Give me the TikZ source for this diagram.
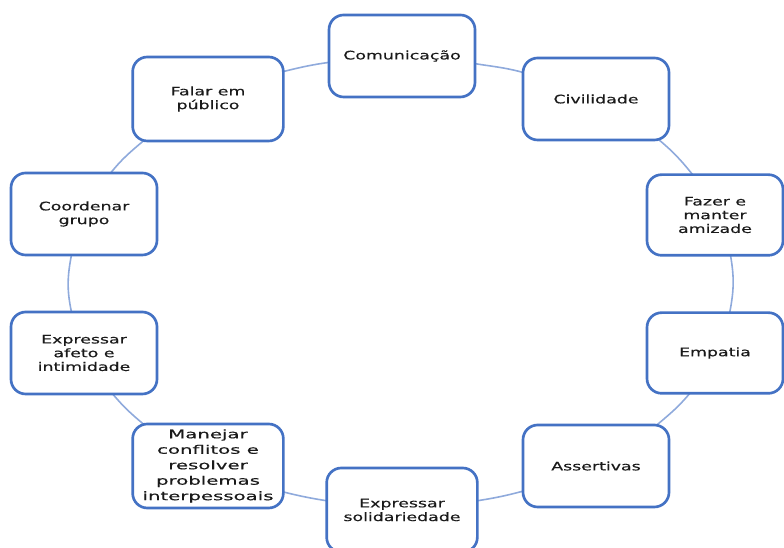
\documentclass[tikz,border=0pt]{standalone}
\usepackage{fontspec}
\setmainfont{DejaVu Sans}[FakeStretch=1.48, FakeBold=0.4]
\newfontfamily\wideFont{DejaVu Sans}[FakeStretch=1.68, FakeBold=0.4]
\usetikzlibrary{backgrounds}
\definecolor{boxblue}{HTML}{4472C4}
\definecolor{connblue}{HTML}{8FAADC}
\definecolor{textgray}{HTML}{1A1A1A}
\tikzset{
  box/.style={draw=boxblue, line width=2pt, rounded corners=11pt, fill=white,
    minimum width=109.5pt, minimum height=61.5pt, align=center, inner sep=1pt,
    outer sep=0pt, text=textgray, font=\fontsize{8.8pt}{10.3pt}\selectfont},
  narrowbox/.style={box, minimum width=102pt, minimum height=60.5pt},
  widebox/.style={box, minimum width=113pt, minimum height=63pt},
  conn/.style={draw=connblue, line width=1.2pt},
}
\begin{document}
\begin{tikzpicture}[x=0.75pt, y=0.75pt]
\useasboundingbox (0,0) rectangle (784,548);
\node[box] (c1) at (402,492) {Comunicação};
\node[box] (c2) at (596,449) {Civilidade};
\node[narrowbox] (c3) at (715,333) {Fazer e\\manter\\amizade};
\node[narrowbox] (c4) at (715,195) {Empatia};
\node[box] (c5) at (596,82) {Assertivas};
\node[widebox] (c6) at (402,38) {Expressar\\solidariedade};
\node[widebox, font=\wideFont\fontsize{8.8pt}{11.6pt}\selectfont] (c7) at (208,82) {Manejar\\conflitos e\\resolver\\problemas\\interpessoais};
\node[box] (c8) at (84,195) {Expressar\\afeto e\\intimidade};
\node[box] (c9) at (84,334) {Coordenar\\grupo};
\node[widebox] (c10) at (208,449) {Falar em\\público};
\begin{scope}[on background layer]
\draw[conn] (c1.-6) to[out=-9, in=165] (c2.160);
\draw[conn] (c2.-33) to[out=-40, in=129] (c3.119);
\draw[conn] (c3.-69) to[out=-80, in=79] (c4.70);
\draw[conn] (c4.-122) to[out=-130, in=40] (c5.34);
\draw[conn] (c5.199) to[out=195, in=9] (c6.7);
\draw[conn] (c6.173) to[out=171, in=-14] (c7.-19);
\draw[conn] (c7.147) to[out=140, in=-50] (c8.-55);
\draw[conn] (c8.107) to[out=102, in=-101] (c9.-107);
\draw[conn] (c9.57) to[out=51, in=220] (c10.213);
\draw[conn] (c10.20) to[out=14, in=188] (c1.185);
\end{scope}
\end{tikzpicture}
\end{document}
